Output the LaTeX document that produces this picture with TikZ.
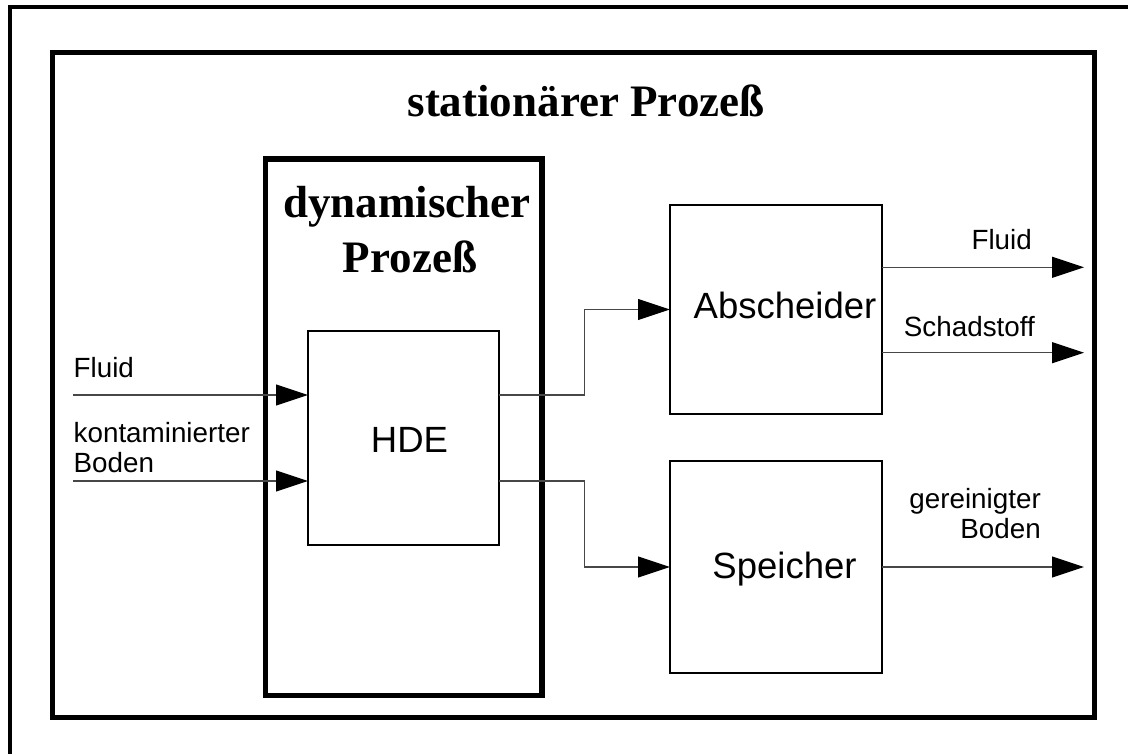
\documentclass[tikz,border=0pt]{standalone}
\usepackage{fontspec}
\usetikzlibrary{arrows.meta}
\newfontfamily\sansfam{Liberation Sans}
\newfontfamily\seriffam{Liberation Serif}
\begin{document}
\begin{tikzpicture}[x=1pt,y=-1pt,
  box/.style={draw=black,line width=#1,inner sep=0pt,outer sep=0pt,fill=none},
  heading/.style={font=\seriffam\bfseries\fontsize{45}{55}\selectfont,inner sep=0pt,anchor=base},
  boxlabel/.style={font=\sansfam\fontsize{36.5}{42}\selectfont,inner sep=0pt,anchor=base},
  small/.style={font=\sansfam\fontsize{27.8}{30}\selectfont,inner sep=0pt},
  flow/.style={draw=black!72,line width=1.1pt,
    -{Triangle[length=32pt,width=21pt,color=black]}}]
\useasboundingbox (0,0) rectangle (1128,754);
\fill[white] (0,0) rectangle (1128,754);

% outer frame, running past the page on the right and at the bottom
\begin{scope}
  \clip (0,0) rectangle (1128,754);
  \draw[line width=4pt] (10,7) rectangle (1200,820);
\end{scope}

% stationary process frame
\node[box=5pt,minimum width=1042pt,minimum height=665pt] (stat) at (573.5,385) {};
\node[heading] (stattitle) at (586,117) {stationärer Prozeß};

% dynamic process
\node[box=5.5pt,minimum width=276.5pt,minimum height=536.5pt] (dyn) at (403.75,427.25) {};
\node[heading] (dyntitleA) at (407,218) {dynamischer};
\node[heading] (dyntitleB) at (410,273) {Prozeß};

% blocks
\node[box=2.7pt,minimum width=191pt,minimum height=214pt] (hde) at (403.5,438) {};
\node[boxlabel] (hdelabel) at (409.5,452) {HDE};
\node[box=2.7pt,minimum width=212pt,minimum height=209pt] (absch) at (776,309.5) {};
\node[boxlabel] (abschlabel) at (785,319) {Abscheider};
\node[box=2.7pt,minimum width=212pt,minimum height=212pt] (speich) at (776,567) {};
\node[boxlabel] (speichlabel) at (784.5,578.3) {Speicher};

% loose ends of the connectors
\coordinate (fluidin) at (73,395);
\coordinate (bodenin) at (73,481);
\coordinate (fluidout) at (1084,267.3);
\coordinate (schadout) at (1084,352.7);
\coordinate (bodenout) at (1084,567);

% inputs
\draw[flow] (fluidin) -- (hde.west |- fluidin);
\draw[flow] (bodenin) -- (hde.west |- bodenin);
\node[small,anchor=base west] (lfluidin) at (73.5,377) {Fluid};
\node[small,anchor=base west] (lkontA) at (73.5,442.7) {kontaminierter};
\node[small,anchor=base west] (lkontB) at (73.5,472.7) {Boden};

% HDE to separator and store
\draw[flow] (hde.east |- fluidin) -- (584.3,395) |- (absch.west);
\draw[flow] (hde.east |- bodenin) -- (584.3,481) |- (speich.west);

% outputs
\draw[flow] (absch.east |- fluidout) -- (fluidout);
\draw[flow] (absch.east |- schadout) -- (schadout);
\draw[flow] (speich.east |- bodenout) -- (bodenout);
\node[small,anchor=base east] (lfluidout) at (1032,250) {Fluid};
\node[small,anchor=base east] (lschad) at (1035,336) {Schadstoff};
\node[small,anchor=base east] (lgerA) at (1041,508) {gereinigter};
\node[small,anchor=base east] (lgerB) at (1041,538.3) {Boden};
\end{tikzpicture}
\end{document}
